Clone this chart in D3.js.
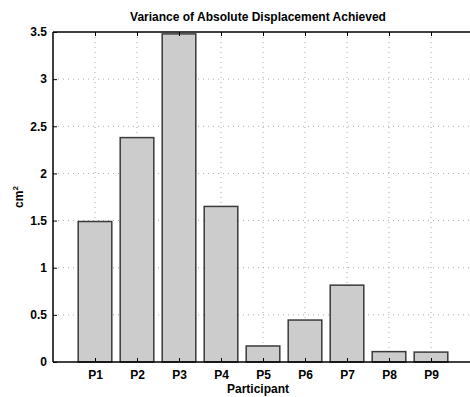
<!DOCTYPE html>
<html><head><meta charset="utf-8">
<script src="https://cdn.jsdelivr.net/npm/d3@7"></script>
<style>body{margin:0;background:#fff}svg{display:block}text{font-family:"Liberation Sans",Arial,sans-serif;font-weight:bold}</style>
</head><body><svg id="c" width="470" height="397"></svg>
<script>
const categories = ["P1","P2","P3","P4","P5","P6","P7","P8","P9"];
const values = [1.49, 2.38, 3.48, 1.65, 0.17, 0.445, 0.815, 0.11, 0.105];
const yTicks = [0, 0.5, 1, 1.5, 2, 2.5, 3, 3.5];
const yTickLabels = ["0","0.5","1","1.5","2","2.5","3","3.5"];
const title = "Variance of Absolute Displacement Achieved";
const xLabel = "Participant";

const svg = d3.select("#c");
const L = 53, T = 32, B = 362, R = 473;
const x = d3.scaleLinear().domain([0, 10]).range([L, R]);
const y = d3.scaleLinear().domain([0, 3.5]).range([B, T]);
const bw = (x(1) - x(0)) * 0.8;

// grid
const g = svg.append("g");
g.selectAll(".gy").data(yTicks.filter(d => d > 0 && d < 3.5)).enter().append("line")
  .attr("x1", L).attr("x2", R).attr("y1", d => y(d)).attr("y2", d => y(d))
  .attr("stroke", "#aaa").attr("stroke-width", 1).attr("stroke-dasharray", "1,4");
g.selectAll(".gx").data(categories).enter().append("line")
  .attr("x1", (d, i) => x(i + 1)).attr("x2", (d, i) => x(i + 1)).attr("y1", T).attr("y2", B)
  .attr("stroke", "#aaa").attr("stroke-width", 1).attr("stroke-dasharray", "1,4");

// bars
svg.selectAll(".bar").data(values).enter().append("rect")
  .attr("x", (d, i) => x(i + 1) - bw / 2).attr("width", bw)
  .attr("y", d => y(d)).attr("height", d => B - y(d))
  .attr("fill", "#cccccc").attr("stroke", "#3a3a3a").attr("stroke-width", 1.5);

// axes
const yAxis = d3.axisLeft(y).tickValues(yTicks).tickFormat((d, i) => yTickLabels[i]).tickSize(-4).tickPadding(6);
const ya = svg.append("g").attr("transform", `translate(${L},0)`).call(yAxis);
const xAxis = d3.axisBottom(x).tickValues(d3.range(1, 10)).tickFormat(d => categories[d - 1]).tickSize(-4).tickPadding(8);
const xa = svg.append("g").attr("transform", `translate(0,${B})`).call(xAxis);
const xt = svg.append("g").attr("transform", `translate(0,${T})`).call(d3.axisTop(x).tickValues(d3.range(1, 10)).tickSize(-4).tickFormat(""));
[ya, xa, xt].forEach(a => {
  a.select(".domain").attr("stroke", "#000").attr("stroke-width", 1.5);
  a.selectAll(".tick line").attr("stroke", "#000");
  a.selectAll("text").attr("font-size", 12).attr("font-weight", "bold").attr("fill", "#000")
    .attr("font-family", '"Liberation Sans", Arial, sans-serif');
});
xa.select(".domain").attr("d", `M${L},0H${R}`);
xt.select(".domain").attr("d", `M${L},0H${R}`);
ya.select(".domain").attr("d", `M0,${T}V${B}`);

svg.append("text").attr("x", 258).attr("y", 21).attr("text-anchor", "middle")
  .attr("font-size", 12).text(title);
svg.append("text").attr("x", 258).attr("y", 393).attr("text-anchor", "middle")
  .attr("font-size", 12).text(xLabel);
const yl = svg.append("text").attr("transform", "translate(23,197) rotate(-90)").attr("text-anchor", "middle").attr("font-size", 12);
yl.append("tspan").text("cm");
yl.append("tspan").attr("dy", -5).attr("font-size", 8).text("2");
</script></body></html>
